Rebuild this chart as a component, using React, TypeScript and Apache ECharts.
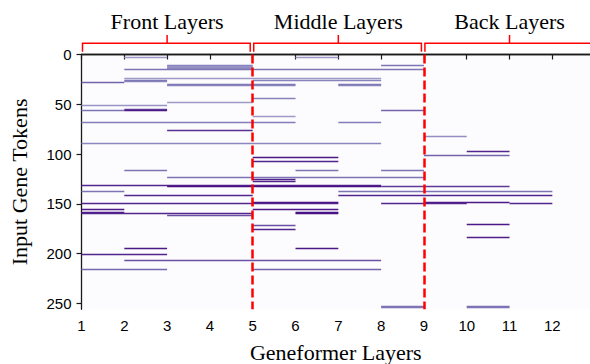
import React, { useEffect, useRef } from "react";
import * as echarts from "echarts";

// ---- data ----
const layerTicks = [1, 2, 3, 4, 5, 6, 7, 8, 9, 10, 11, 12];
const tokenTicks = [0, 50, 100, 150, 200, 250];
const groupNames = ["Front Layers", "Middle Layers", "Back Layers"];
const groupStarts = [1, 5, 9];
const groupEnds = [5, 9, 13];
const boundaryLayers = [5, 9];

// horizontal segments: token row, first layer, last layer, activation (0..1)
const segTokens = [
  3, 3, 11, 12, 13, 14, 11, 15, 24, 26, 26, 27, 28, 30, 31, 30, 31, 44, 48, 51,
  56, 55, 56, 56, 62, 68, 68, 76, 82, 89, 97, 101, 103, 107, 116, 116, 116, 123,
  125, 127, 131, 132, 132, 137, 137, 141, 141, 148, 148, 149, 149, 149, 155, 155,
  158, 158, 159, 159, 161, 170, 171, 175, 183, 194, 194, 200, 206, 216, 216, 253,
  254, 253, 254,
];
const segFrom = [
  2, 6, 3, 3, 3, 3, 8, 2, 2, 2, 5, 2, 1, 3, 3, 7, 7, 5, 3, 1,
  1, 2, 2, 8, 5, 1, 7, 3, 9, 1, 10, 9, 5, 5, 2, 6, 8, 3,
  5, 5, 1, 3, 8, 1, 7, 2, 7, 5, 9, 1, 8, 11, 1, 5,
  1, 6, 1, 6, 3, 10, 5, 5, 10, 2, 6, 1, 2, 1, 5, 8,
  8, 10, 10,
];
const segTo = [
  2, 6, 4, 4, 4, 4, 8, 8, 7, 2, 7, 2, 1, 5, 5, 7, 7, 5, 4, 2,
  1, 2, 2, 8, 5, 5, 7, 4, 9, 7, 10, 10, 6, 6, 2, 6, 8, 8,
  5, 5, 7, 7, 10, 1, 11, 4, 11, 6, 10, 6, 9, 11, 1, 6,
  1, 6, 4, 6, 4, 10, 5, 5, 10, 2, 6, 2, 7, 2, 7, 8,
  8, 10, 10,
];
const segValues = [
  0.5, 0.5, 0.62, 0.52, 0.55, 0.55, 0.65, 0.65, 0.5, 0.65, 0.6, 0.6, 0.7, 0.65, 0.6, 0.65, 0.6, 0.6, 0.5, 0.52,
  0.65, 0.8, 0.92, 0.7, 0.5, 0.62, 0.62, 0.85, 0.55, 0.58, 0.88, 0.7, 0.92, 0.88, 0.65, 0.65, 0.65, 0.65,
  0.88, 0.88, 0.88, 0.95, 0.82, 0.65, 0.65, 0.88, 0.88, 0.95, 0.92, 0.88, 0.88, 0.88, 0.92, 0.92,
  0.92, 0.95, 0.88, 0.95, 0.75, 0.92, 0.75, 0.88, 0.9, 0.92, 0.92, 0.88, 0.75, 0.68, 0.7, 0.65,
  0.65, 0.65, 0.65,
];

// ---- styling helpers ----
const SERIF = "'Liberation Serif', 'Times New Roman', serif";
const SANS = "'Liberation Sans', Arial, sans-serif";
const PURPLES = ["#fcfbfd", "#efedf5", "#dadaeb", "#bcbddc", "#9e9ac8", "#807dba", "#6a51a3", "#54278f", "#3f007d"];

function hexToRgb(h: string): number[] {
  const n = parseInt(h.slice(1), 16);
  return [(n >> 16) & 255, (n >> 8) & 255, n & 255];
}
function purples(v: number): string {
  const t = Math.max(0, Math.min(1, v)) * (PURPLES.length - 1);
  const i = Math.min(Math.floor(t), PURPLES.length - 2);
  const f = t - i;
  const a = hexToRgb(PURPLES[i]);
  const b = hexToRgb(PURPLES[i + 1]);
  const c = a.map((x, k) => Math.round(x + (b[k] - x) * f));
  return `rgb(${c[0]},${c[1]},${c[2]})`;
}

export default function App() {
  const ref = useRef<HTMLDivElement>(null);
  useEffect(() => {
    if (!ref.current) return;
    const chart = echarts.init(ref.current, null, { renderer: "svg" });
    const segData = segTokens.map((t, i) => [segFrom[i], segTo[i] + 1, t, segValues[i]]);
    const groupData = groupStarts.map((s, i) => [s, groupEnds[i], i]);
    const axisColor = "#1a1a1a";
    const xMax = 12.88;
    chart.setOption({
      animation: false,
      grid: {
        left: 81.5,
        right: 0,
        top: 54.5,
        bottom: 54.7,
        outerBoundsMode: "none",
        containLabel: false,
        show: true,
        backgroundColor: "#fcfbfd",
        borderWidth: 0,
      },
      xAxis: [
        {
          type: "value",
          min: 1,
          max: xMax,
          splitLine: { show: false },
          axisLine: { show: true, lineStyle: { color: axisColor, width: 1.3 } },
          axisTick: { show: true, length: 5, customValues: layerTicks, lineStyle: { color: axisColor, width: 1.2 } },
          axisLabel: { customValues: layerTicks, fontFamily: SANS, fontSize: 15, color: "#000", margin: 9 },
          name: "Geneformer Layers",
          nameLocation: "middle",
          nameGap: 32,
          nameTextStyle: { fontFamily: SERIF, fontSize: 22, color: "#000" },
        },
        {
          type: "value",
          position: "top",
          min: 1,
          max: xMax,
          splitLine: { show: false },
          axisLine: { show: true, lineStyle: { color: axisColor, width: 1.3 } },
          axisTick: { show: false },
          axisLabel: { show: false },
        },
      ],
      yAxis: {
        type: "value",
        inverse: true,
        min: 0,
        max: 256,
        splitLine: { show: false },
        axisLine: { show: true, lineStyle: { color: axisColor, width: 1.3 } },
        axisTick: { show: true, length: 5, customValues: tokenTicks, lineStyle: { color: axisColor, width: 1.2 } },
        axisLabel: { customValues: tokenTicks, fontFamily: SANS, fontSize: 15, color: "#000", margin: 10 },
        name: "Input Gene Tokens",
        nameLocation: "middle",
        nameGap: 51,
        nameTextStyle: { fontFamily: SERIF, fontSize: 22, color: "#000" },
      },
      series: [
        {
          type: "custom",
          coordinateSystem: "cartesian2d",
          xAxisIndex: 0,
          encode: { x: [0, 1], y: 2 },
          clip: true,
          data: segData,
          renderItem: (_p: any, api: any) => {
            const x0 = api.value(0);
            const x1 = api.value(1);
            const y = api.value(2);
            const v = api.value(3);
            const a = api.coord([x0, y]);
            const b = api.coord([x1, y + 1]);
            const center = (a[1] + b[1]) / 2;
            const top = Math.round(center - 0.5) - 0.25;
            return {
              type: "rect",
              shape: { x: a[0], y: top, width: b[0] - a[0], height: 1.5 },
              style: { fill: purples(v) },
            };
          },
          markLine: {
            silent: true,
            symbol: ["none", "none"],
            label: { show: false },
            lineStyle: { color: "#ff0000", width: 2.5, type: [9, 4], opacity: 1 },
            data: boundaryLayers.map((x) => ({ xAxis: x })),
          },
        },
        {
          type: "custom",
          coordinateSystem: "cartesian2d",
          xAxisIndex: 0,
          encode: { x: [0, 1] },
          clip: false,
          silent: true,
          data: groupData,
          renderItem: (_p: any, api: any) => {
            const s = api.value(0);
            const e = api.value(1);
            const idx = api.value(2);
            const top = api.coord([s, 0])[1];
            const xs = api.coord([s, 0])[0] + 1;
            const xe = api.coord([e, 0])[0] - 2.5;
            const xm = api.coord([(s + e) / 2, 0])[0];
            const yh = top - 11.2;
            const yEnd = top - 2.8;
            const yTick = top - 19.5;
            return {
              type: "group",
              children: [
                {
                  type: "polyline",
                  shape: { points: [[xs, yEnd], [xs, yh], [xe, yh], [xe, yEnd]] },
                  style: { stroke: "#ff0000", lineWidth: 1.5, fill: "none" },
                },
                {
                  type: "line",
                  shape: { x1: xm, y1: yh, x2: xm, y2: yTick },
                  style: { stroke: "#ff0000", lineWidth: 1.5 },
                },
                {
                  type: "text",
                  x: xm,
                  y: top - 33,
                  style: {
                    text: groupNames[idx],
                    fontFamily: SERIF,
                    fontSize: 22,
                    fill: "#000",
                    align: "center",
                    verticalAlign: "middle",
                  },
                },
              ],
            };
          },
        },
      ],
    });
    return () => chart.dispose();
  }, []);
  return (
    <div
      ref={ref}
      style={{ position: "absolute", left: 0, top: 0, width: 590, height: 364, background: "#fff" }}
    />
  );
}
